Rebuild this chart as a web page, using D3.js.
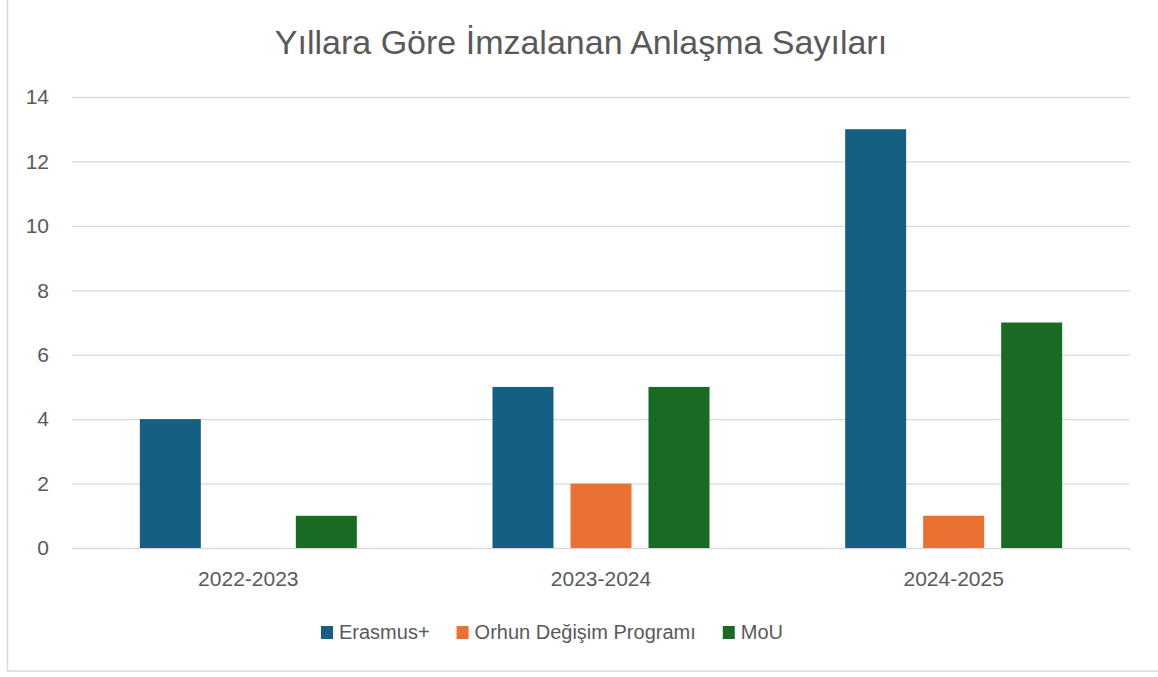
<!DOCTYPE html>
<html>
<head>
<meta charset="utf-8">
<script src="https://cdn.jsdelivr.net/npm/d3@7"></script>
<style>
  body { margin: 0; background: #fff; }
  text { font-family: "Liberation Sans", Arial, sans-serif; fill: #595959; }
</style>
</head>
<body>
<div id="chart-area"></div>
<script>
// data
const categories = ["2022-2023", "2023-2024", "2024-2025"]
const seriesNames = ["Erasmus+", "Orhun Değişim Programı", "MoU"]
const erasmus = [4, 5, 13]
const orhun = [0, 2, 1]
const mou = [1, 5, 7]
const yTicks = [0, 2, 4, 6, 8, 10, 12, 14]
const colors = ["#156082", "#E97132", "#196B24"]

const WIDTH = 1158, HEIGHT = 677
const PLOT = { LEFT: 72, RIGHT: 1130, TOP: 97, BOTTOM: 548 }

const svg = d3.select("#chart-area").append("svg")
  .attr("width", WIDTH)
  .attr("height", HEIGHT)

// chart border
svg.append("rect")
  .attr("x", 7.5).attr("y", -5)
  .attr("width", 1160).attr("height", 676)
  .attr("fill", "none")
  .attr("stroke", "#d9d9d9")
  .attr("stroke-width", 1.5)

svg.append("text")
  .attr("x", 581)
  .attr("y", 54)
  .attr("text-anchor", "middle")
  .attr("font-size", "34px")
  .text("Yıllara Göre İmzalanan Anlaşma Sayıları")

// scales
const x = d3.scaleBand()
  .domain(categories)
  .range([PLOT.LEFT, PLOT.RIGHT])

const xInner = d3.scaleBand()
  .domain(seriesNames)
  .range([-108.5, 108.5])
  .paddingInner(0.218)

const y = d3.scaleLinear()
  .domain([0, 14])
  .range([PLOT.BOTTOM, PLOT.TOP])

// gridlines
const yGrid = d3.axisLeft(y)
  .tickValues(yTicks)
  .tickSize(-(PLOT.RIGHT - PLOT.LEFT))
  .tickFormat("")
svg.append("g")
  .attr("class", "grid")
  .attr("transform", `translate(${PLOT.LEFT},0)`)
  .call(yGrid)
  .call(g => g.select(".domain").remove())
  .selectAll("line")
    .attr("stroke", "#d9d9d9")
    .attr("stroke-width", 1.3)

// y labels
const yAxis = d3.axisLeft(y)
  .tickValues(yTicks)
  .tickSize(0)
  .tickPadding(0)
svg.append("g")
  .attr("transform", `translate(${PLOT.LEFT - 23},0)`)
  .call(yAxis)
  .call(g => g.select(".domain").remove())
  .selectAll("text")
    .attr("font-size", "21px")
    .attr("font-family", "Liberation Sans")
    .attr("fill", "#595959")

// bars
const table = categories.map((c, i) => ({
  cat: c,
  values: [erasmus[i], orhun[i], mou[i]]
}))

const groups = svg.append("g").selectAll("g")
  .data(table)
  .enter().append("g")
  .attr("transform", d => `translate(${x(d.cat) + x.bandwidth() / 2},0)`)

groups.selectAll("rect")
  .data(d => d.values.map((v, j) => ({ name: seriesNames[j], value: v, idx: j })))
  .enter().append("rect")
  .filter(d => d.value > 0)
  .attr("x", d => xInner(d.name))
  .attr("width", xInner.bandwidth())
  .attr("y", d => y(d.value))
  .attr("height", d => y(0) - y(d.value))
  .attr("fill", d => colors[d.idx])

// x labels
const xAxis = d3.axisBottom(x).tickSize(0).tickPadding(0)
svg.append("g")
  .attr("transform", `translate(0,${PLOT.BOTTOM})`)
  .call(xAxis)
  .call(g => g.select(".domain").remove())
  .selectAll("text")
    .attr("y", 38)
    .attr("dy", 0)
    .attr("font-size", "21px")
    .attr("font-family", "Liberation Sans")
    .attr("fill", "#595959")

// legend
const legend = svg.append("g")
  .attr("class", "legend")
  .attr("transform", "translate(321,639)")

let lx = 0
seriesNames.forEach((name, i) => {
  const item = legend.append("g").attr("transform", `translate(${lx},0)`)
  item.append("rect")
    .attr("x", 0).attr("y", -13)
    .attr("width", 12).attr("height", 13)
    .attr("fill", colors[i])
  const t = item.append("text")
    .attr("x", 18)
    .attr("y", 0)
    .attr("font-size", "20px")
    .text(name)
  lx += 18 + t.node().getComputedTextLength() + 27
})
</script>
</body>
</html>
